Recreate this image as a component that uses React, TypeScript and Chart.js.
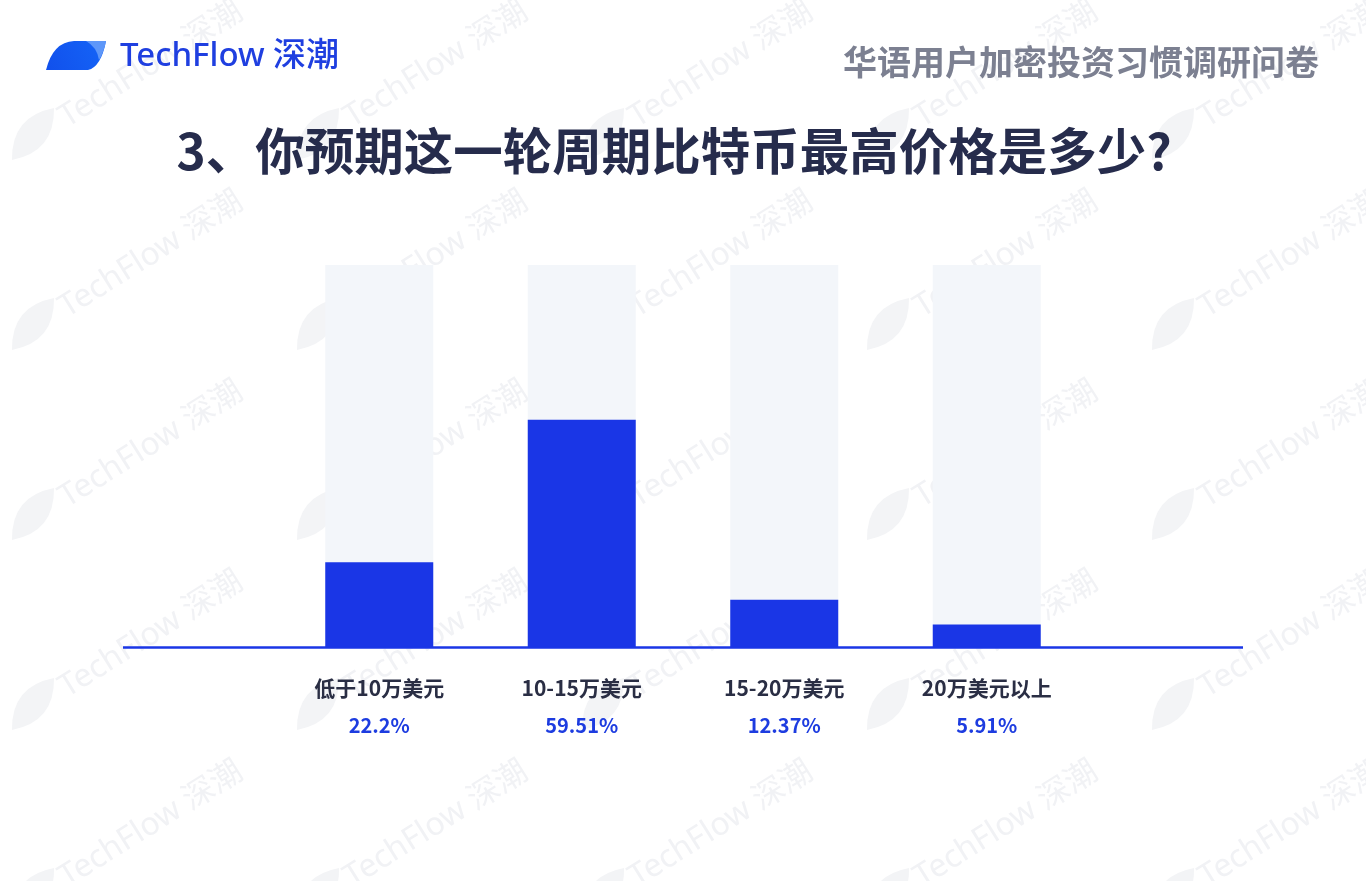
import React, { useEffect, useRef } from "react";
import { Chart, registerables } from "chart.js";

Chart.register(...registerables);

const categories = ["低于10万美元", "10-15万美元", "15-20万美元", "20万美元以上"];
const shareValues = [22.2, 59.51, 12.37, 5.91];
const trackValues = [100, 100, 100, 100];
const percentLabels = ["22.2%", "59.51%", "12.37%", "5.91%"];
const titleText = "3、你预期这一轮周期比特币最高价格是多少?";
const headerText = "华语用户加密投资习惯调研问卷";
const brandText = "TechFlow 深潮";
const watermarkText = "TechFlow 深潮";

const BLUE = "#1a36e6";
const CJK = '"Noto Sans CJK SC", "Noto Sans", sans-serif';

function drawWatermarkLeaf(ctx: CanvasRenderingContext2D, x0: number, y0: number, x1: number, y1: number) {
  // pointed leaf between (x0,y0) bottom-left and (x1,y1) top-right
  const mx = (x0 + x1) / 2;
  const my = (y0 + y1) / 2;
  const dx = x1 - x0;
  const dy = y1 - y0;
  const len = Math.hypot(dx, dy);
  const nx = -dy / len;
  const ny = dx / len;
  const w = len * 0.42;
  ctx.beginPath();
  ctx.moveTo(x0, y0);
  ctx.quadraticCurveTo(mx + nx * w, my + ny * w, x1, y1);
  ctx.quadraticCurveTo(mx - nx * w, my - ny * w, x0, y0);
  ctx.closePath();
  ctx.fill();
}

const decorPlugin = {
  id: "decor",
  beforeDraw(chart: any) {
    const ctx: CanvasRenderingContext2D = chart.ctx;
    ctx.save();
    ctx.fillStyle = "#ffffff";
    ctx.fillRect(0, 0, chart.width, chart.height);
    for (let row = -1; row < 6; row++) {
      for (let col = 0; col < 5; col++) {
        const tx = 67 + col * 285;
        const ty = 128 + row * 190;
        ctx.fillStyle = "#f3f4f6";
        drawWatermarkLeaf(ctx, tx - 55, ty + 32, tx - 13, ty - 20);
        ctx.save();
        ctx.translate(tx, ty);
        ctx.rotate(-Math.PI * 32 / 180);
        ctx.font = '32px "Noto Sans", ' + CJK;
        ctx.fillStyle = "#f1f2f5";
        ctx.textBaseline = "alphabetic";
        ctx.textAlign = "left";
        ctx.fillText(watermarkText, 0, 0);
        ctx.restore();
      }
    }
    ctx.restore();
  },
  afterDraw(chart: any) {
    const ctx: CanvasRenderingContext2D = chart.ctx;
    const area = chart.chartArea;
    const xScale = chart.scales.x;
    ctx.save();
    // baseline
    ctx.strokeStyle = BLUE;
    ctx.lineWidth = 2.5;
    ctx.beginPath();
    ctx.moveTo(area.left - 155, area.bottom + 0.5);
    ctx.lineTo(area.right + 155, area.bottom + 0.5);
    ctx.stroke();

    // category + percent labels
    ctx.textAlign = "center";
    ctx.textBaseline = "middle";
    categories.forEach((c, i) => {
      const x = xScale.getPixelForValue(i);
      ctx.font = "bold 21px " + CJK;
      ctx.fillStyle = "#2a2e44";
      ctx.fillText(c, x, area.bottom + 41);
      ctx.font = "bold 20px " + CJK;
      ctx.fillStyle = "#1d3ce0";
      ctx.fillText(percentLabels[i], x, area.bottom + 78);
    });

    // title
    ctx.font = "bold 49.5px " + CJK;
    ctx.fillStyle = "#262c4c";
    ctx.textAlign = "center";
    ctx.fillText(titleText, 674, 151);

    // header right
    ctx.font = "bold 34px " + CJK;
    ctx.fillStyle = "#7c8091";
    ctx.textAlign = "right";
    ctx.fillText(headerText, 1319, 62);

    // logo leaf
    const g = ctx.createLinearGradient(46, 70, 106, 41);
    g.addColorStop(0, "#1150ec");
    g.addColorStop(1, "#1565f7");
    ctx.beginPath();
    ctx.moveTo(46, 70);
    ctx.quadraticCurveTo(53, 42, 74, 41);
    ctx.lineTo(106, 41);
    ctx.quadraticCurveTo(101, 67, 88, 70);
    ctx.closePath();
    ctx.fillStyle = g;
    ctx.fill();
    ctx.beginPath();
    ctx.moveTo(86, 41);
    ctx.lineTo(106, 41);
    ctx.quadraticCurveTo(104, 52, 99, 60);
    ctx.quadraticCurveTo(97, 47, 86, 41);
    ctx.closePath();
    ctx.fillStyle = "#5e97f9";
    ctx.fill();

    // brand text
    ctx.font = '500 33px "Noto Sans", ' + CJK;
    ctx.fillStyle = "#1f3fe0";
    ctx.textAlign = "left";
    ctx.textBaseline = "middle";
    ctx.fillText(brandText, 120, 57);
    ctx.restore();
  },
};

export default function App() {
  const ref = useRef<HTMLCanvasElement | null>(null);
  useEffect(() => {
    if (!ref.current) return;
    const chart = new Chart(ref.current, {
      type: "bar",
      data: {
        labels: categories,
        datasets: [
          {
            label: "占比",
            data: shareValues,
            backgroundColor: BLUE,
            order: 1,
            grouped: false,
            barPercentage: 1,
            categoryPercentage: 0.5333,
          } as any,
          {
            label: "track",
            data: trackValues,
            backgroundColor: "#f3f6fa",
            order: 2,
            grouped: false,
            barPercentage: 1,
            categoryPercentage: 0.5333,
          } as any,
        ],
      },
      options: {
        responsive: false,
        animation: false,
        layout: { padding: { left: 278, right: 278, top: 265, bottom: 234 } },
        plugins: {
          legend: { display: false },
          tooltip: { enabled: false },
          title: { display: false },
        },
        scales: {
          x: { display: false, offset: true },
          y: { display: false, min: 0, max: 100 },
        },
      },
      plugins: [decorPlugin],
    });
    return () => chart.destroy();
  }, []);
  return (
    <div style={{ position: "absolute", left: 0, top: 0, width: 1366, height: 881, background: "#fff" }}>
      <canvas ref={ref} width={1366} height={881} style={{ display: "block" }} />
    </div>
  );
}
